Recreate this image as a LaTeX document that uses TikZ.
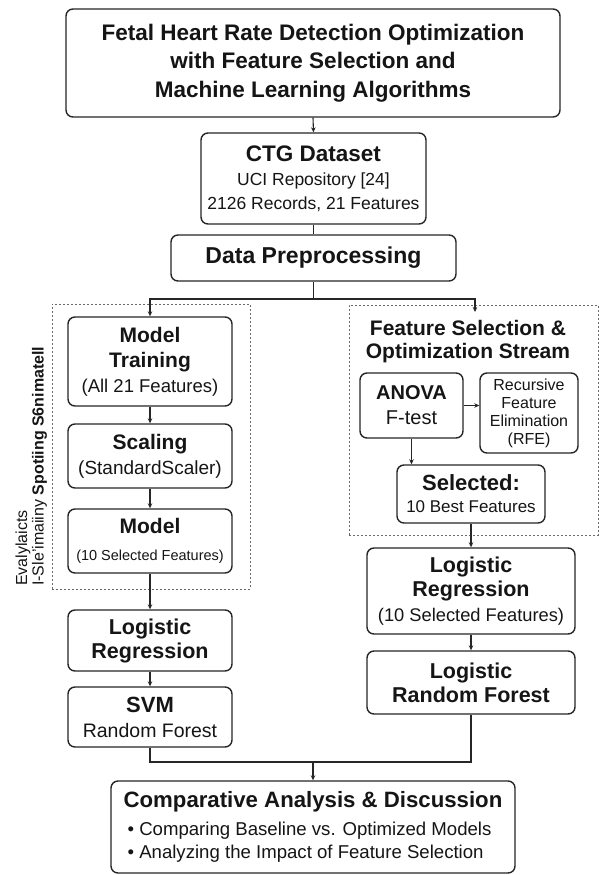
\documentclass[tikz,border=0pt]{standalone}
\usepackage{fontspec}
\setmainfont{Liberation Sans}
\usetikzlibrary{arrows.meta,calc}
\definecolor{ink}{HTML}{151515}
\definecolor{frame}{HTML}{262626}
\definecolor{dotc}{HTML}{6A6A6A}
\newcommand\fs[2]{\fontsize{#1}{#2}\selectfont}
\tikzset{
  box/.style={draw=frame, line width=1.4pt, rounded corners=7pt, align=center, inner sep=0pt, text=ink},
  dotbox/.style={draw=dotc, line width=0.9pt, dash pattern=on 2pt off 2pt, inner sep=0pt},
  conn/.style={draw=frame, line width=1.1pt},
  arr/.style={conn, -{Stealth[length=5pt,width=4.5pt]}},
  lab/.style={text=ink, inner sep=0pt},
}
\begin{document}
\begin{tikzpicture}[x=1pt,y=-1pt]
\useasboundingbox[fill=white] (0,0) rectangle (600,875);
% dotted frames
\node[dotbox, minimum width=198pt, minimum height=285pt] (lframe) at (151,446.5) {};
\node[dotbox, minimum width=249pt, minimum height=230pt] (rframe) at (473.5,420) {};
% title
\node[box, minimum width=494pt, minimum height=108pt, font=\fs{22.5}{28.5}\bfseries] (title) at (313,63)
  {Fetal Heart Rate Detection Optimization\\ with Feature Selection and\\ Machine Learning Algorithms};
% dataset
\node[box, minimum width=225pt, minimum height=91pt, font=\fs{17.5}{24}] (ctg) at (313.5,178.5)
  {\fs{22.5}{24}\bfseries CTG Dataset\\ UCI Repository [24]\\ 2126 Records, 21 Features};
\node[box, minimum width=285pt, minimum height=46pt, font=\fs{23}{26}\bfseries] (dp) at (313.5,258)
  {Data Preprocessing};
% left column
\node[box, minimum width=164pt, minimum height=89pt, font=\fs{21}{25}\bfseries] (mt) at (150,361.5)
  {Model\\ Training\\ \fs{18.5}{25}\mdseries (All 21 Features)};
\node[box, minimum width=164pt, minimum height=64pt, font=\fs{21}{25}\bfseries] (sc) at (150,456)
  {Scaling\\ \fs{19}{25}\mdseries (StandardScaler)};
\node[box, minimum width=164pt, minimum height=64pt, font=\fs{21}{27}\bfseries] (md) at (150,541)
  {Model\\ \fs{14.5}{27}\mdseries (10 Selected Features)};
\node[box, minimum width=164pt, minimum height=61pt, font=\fs{21.5}{24}\bfseries] (llr) at (150,640.5)
  {Logistic\\ Regression};
\node[box, minimum width=164pt, minimum height=60pt, font=\fs{22}{25}\bfseries] (svm) at (150,717)
  {SVM\\ \fs{19.5}{25}\mdseries Random Forest};
% rotated side labels
\node[lab, rotate=90, anchor=west] (side1) at (23,586) {\fs{16}{16}Evalylaicts};
\node[lab, rotate=90, anchor=west] (side2) at (39.5,586) {\fs{16}{16}I-Sle'imaiiny \bfseries Spotiing S6nimatell};
% right column
\node[lab, align=center, font=\fs{21}{23}\bfseries] (rhead) at (468,341.5)
  {Feature Selection \&\\ Optimization Stream};
\node[box, minimum width=103pt, minimum height=65pt, font=\fs{20}{25}\bfseries] (anova) at (411.5,405.5)
  {ANOVA\\ \mdseries F-test};
\node[box, minimum width=98pt, minimum height=80pt, font=\fs{16}{18}] (rfe) at (529,413)
  {Recursive\\ Feature\\ Elimination\\ (RFE)};
\node[box, minimum width=148pt, minimum height=58pt, font=\fs{22}{22}\bfseries] (sel) at (471,494)
  {Selected:\\ \fs{17}{22}\mdseries 10 Best Features};
\node[box, minimum width=208pt, minimum height=86pt, font=\fs{21.5}{24.5}\bfseries] (rlr) at (471,591)
  {Logistic\\ Regression\\ \fs{18.3}{24.5}\mdseries (10 Selected Features)};
\node[box, minimum width=208pt, minimum height=63pt, font=\fs{21.5}{24}\bfseries] (rrf) at (471,682.5)
  {Logistic\\ Random Forest};
% comparative
\node[box, minimum width=404pt, minimum height=92pt, align=left, font=\fs{18.6}{23.5}] (comp) at (313,827)
  {\fs{22.2}{23.5}\bfseries Comparative Analysis \& Discussion\\[4pt]
   \hspace{4pt}• Comparing Baseline vs. Optimized Models\\
   \hspace{4pt}• Analyzing the Impact of Feature Selection};
% connector points
\coordinate (j1) at (313.5,299);
\coordinate (rin) at (475,312);
\coordinate (j2) at (313,762);
% connectors
\draw[arr] (title.south) -- (ctg.north);
\draw[conn] (ctg.south) -- (dp.north);
\draw[conn] (dp.south) -- (j1);
\draw[arr] (j1) -| (mt.north);
\draw[arr] (j1) -| (rin);
\draw[arr] (mt) -- (sc);
\draw[arr] (sc) -- (md);
\draw[arr] (md) -- (llr);
\draw[arr] (llr) -- (svm);
\draw[arr] (anova.east) -- (anova.east -| rfe.west);
\draw[arr] (anova) -- (sel.north -| anova);
\draw[arr] (sel) -- (rlr);
\draw[arr] (rlr) -- (rrf);
\draw[conn] (svm.south) |- (j2) -| (rrf.south);
\draw[arr] (j2) -- (comp.north);
\end{tikzpicture}
\end{document}
